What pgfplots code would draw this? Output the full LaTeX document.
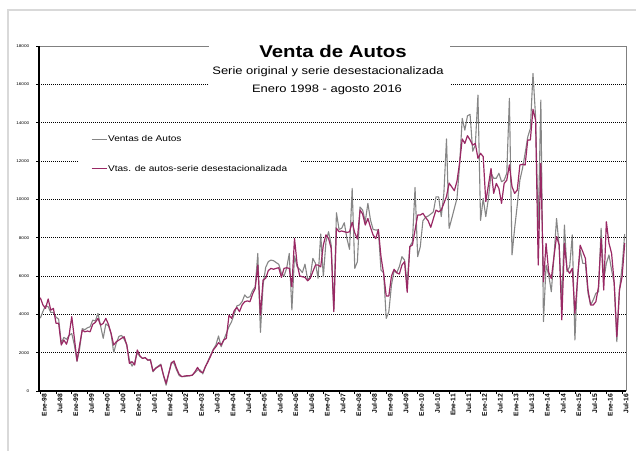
\documentclass[border=0pt]{standalone}
\usepackage{fontspec}
\setmainfont{Liberation Sans}[FakeStretch=1.2]
\newfontfamily\plainsans{Liberation Sans}
\usepackage{pgfplots}
\pgfplotsset{compat=1.18}
\usepackage{pgfplotstable}
\definecolor{ventas}{RGB}{134,134,134}
\definecolor{desest}{RGB}{153,40,100}
\definecolor{marco}{RGB}{217,217,217}
\definecolor{borde}{RGB}{128,128,128}

% mes: 0 = enero 1998 ... 223 = agosto 2016
\pgfplotstableread{
mes ventas desest
0 3800 4870
1 4150 4490
2 4450 4310
3 4400 4800
4 4100 4220
5 4100 4310
6 3850 3530
7 3750 3530
8 2500 2400
9 2800 2660
10 2700 2440
11 2900 2920
12 3000 3880
13 2400 2750
14 1550 1570
15 2200 2400
16 3250 3180
17 3200 3090
18 3300 3130
19 3350 3090
20 3700 3480
21 3650 3580
22 4050 3790
23 3400 3440
24 2750 3530
25 3500 3790
26 3400 3480
27 3000 3010
28 2000 2400
29 2500 2570
30 2850 2660
31 2900 2750
32 2700 2830
33 2400 2400
34 1600 1440
35 1300 1530
36 1500 1360
37 2000 2140
38 1800 1840
39 1700 1700
40 1750 1740
41 1600 1620
42 1650 1620
43 1000 1040
44 1200 1180
45 1300 1270
46 1400 1360
47 800 830
48 300 400
49 900 920
50 1500 1440
51 1450 1570
52 1100 1180
53 800 870
54 750 750
55 750 780
56 780 800
57 800 800
58 820 830
59 950 1000
60 1100 1230
61 1100 1010
62 890 960
63 1270 1270
64 1580 1530
65 1880 1820
66 2170 2140
67 2400 2310
68 2870 2520
69 2310 2400
70 2660 2660
71 3010 2750
72 3360 3960
73 3620 3790
74 4020 4190
75 4440 4360
76 4490 4140
77 4660 4490
78 5010 4660
79 4870 4700
80 4920 4660
81 5240 5060
82 5440 5350
83 7180 6570
84 3060 3960
85 5530 5790
86 6450 5880
87 6750 6280
88 6830 6400
89 6800 6350
90 6700 6400
91 6610 6430
92 6140 5930
93 6000 6400
94 6400 6430
95 7180 6400
96 4230 5440
97 7050 7960
98 6480 6620
99 6350 6000
100 6180 5960
101 6620 5930
102 5820 5750
103 5930 5880
104 6920 6230
105 6660 6570
106 5880 6570
107 8190 6480
108 5960 7620
109 7790 8150
110 8310 7960
111 7620 7440
112 4230 4140
113 9300 8490
114 8430 8310
115 8490 8350
116 8780 8310
117 7960 8270
118 7390 8310
119 10570 8800
120 6400 8250
121 6750 7930
122 9600 9450
123 9440 9230
124 8830 8660
125 9790 9000
126 8920 8540
127 8430 8140
128 8400 7950
129 8400 8430
130 6310 7010
131 6170 6140
132 3790 4960
133 4140 4960
134 5530 6000
135 6270 6350
136 6170 6170
137 6490 6100
138 7010 6570
139 6830 6750
140 5620 5150
141 7530 7530
142 7790 7620
143 10620 8400
144 7010 9180
145 7530 9180
146 8880 9270
147 9060 9060
148 9130 8880
149 9230 8540
150 9350 9000
151 10130 9440
152 10130 9350
153 9100 9440
154 10310 9790
155 13150 10150
156 8480 10850
157 9000 10650
158 9530 10450
159 10050 10950
160 11790 11900
161 14220 13150
162 13610 12920
163 14360 13320
164 14430 13100
165 12510 12830
166 12830 12920
167 15440 12140
168 8900 12400
169 10050 12230
170 9100 9880
171 10050 10740
172 11360 11610
173 11100 10310
174 11100 10830
175 11360 10570
176 10920 9790
177 11000 10830
178 11360 11000
179 15270 11800
180 7100 10660
181 8480 10310
182 9700 10480
183 11000 11790
184 11610 11830
185 12400 11790
186 13250 13100
187 13700 13100
188 16570 14700
189 14300 14140
190 8500 6570
191 15180 11880
192 3620 5700
193 6570 7700
194 6050 6200
195 5180 5870
196 7000 7000
197 9000 8060
198 7530 7620
199 4570 3710
200 8660 7710
201 6230 6340
202 6490 6140
203 8140 6400
204 2660 4050
205 5960 5790
206 7360 7610
207 6660 7270
208 6660 6920
209 5100 5270
210 4490 4490
211 4750 4490
212 5100 4660
213 5180 5440
214 8490 7970
215 5790 5270
216 6660 8830
217 7100 7710
218 6310 7180
219 5620 5620
220 2570 2830
221 5270 5270
222 6490 5960
223 8190 7710
}\autos

\begin{document}
\begin{tikzpicture}
\useasboundingbox (0pt,0pt) rectangle (636pt,-450pt);
\fill[white] (0pt,0pt) rectangle (636pt,-450pt);
\draw[marco, line width=2.2pt] (8pt,-10pt) rectangle (660pt,-470pt);

\begin{axis}[
  at={(39pt,-391pt)}, anchor=south west,
  scale only axis, width=587pt, height=345pt,
  xmin=-0.5, xmax=223.5, ymin=0, ymax=18000,
  scaled y ticks=false,
  axis line style={draw=none},
  tick pos=left,
  tick align=outside, major tick length=3pt,
  tick style={black, line width=0.6pt},
  xtick={0,6,...,222},
  xticklabels={Ene-98,Jul-98,Ene-99,Jul-99,Ene-00,Jul-00,Ene-01,Jul-01,Ene-02,Jul-02,
    Ene-03,Jul-03,Ene-04,Jul-04,Ene-05,Jul-05,Ene-06,Jul-06,Ene-07,Jul-07,Ene-08,Jul-08,
    Ene-09,Jul-09,Ene-10,Jul-10,Ene-11,Jul-11,Ene-12,Jul-12,Ene-13,Jul-13,Ene-14,Jul-14,
    Ene-15,Jul-15,Ene-16,Jul-16},
  xticklabel style={rotate=90, anchor=east, inner sep=0pt, yshift=-4pt,
    font=\plainsans\bfseries\fontsize{6.7}{7}\selectfont},
  ytick={0,2000,4000,6000,8000,10000,12000,14000,16000,18000},
  yticklabels={0,2000,4000,6000,8000,10000,12000,14000,16000,18000},
  yticklabel style={inner sep=0pt, xshift=-6.5pt, font=\fontsize{3.9}{4}\selectfont},
  ymajorgrids,
  major grid style={black, line width=0.7pt, dash pattern=on 1pt off 1pt},
  legend style={at={(axis description cs:0.068,0.76)}, anchor=north west,
    draw=none, fill=white, inner xsep=12pt, inner ysep=6pt, row sep=20pt,
    font=\fontsize{8.4}{9}\selectfont, nodes={inner sep=0.8pt},
    /tikz/every odd column/.append style={column sep=0pt}},
  legend cell align=left,
  legend image code/.code={\draw[#1] (0pt,0pt) -- (15pt,0pt);},
  after end axis/.code={
    \draw[borde, line width=0.8pt] (rel axis cs:0,1) -- (rel axis cs:1,1) -- (rel axis cs:1,0);
    \draw[black, line width=1.4pt] (rel axis cs:0,1) -- (rel axis cs:0,0) -- (rel axis cs:1,0);
  },
]
\addplot[ventas, line width=1.1pt, line join=round] table[x=mes, y=ventas]{\autos};
\addlegendentry{Ventas de Autos}
\addplot[desest, line width=1.2pt, line join=round] table[x=mes, y=desest]{\autos};
\addlegendentry{Vtas. de autos-serie desestacionalizada}
\end{axis}

\fill[white] (209pt,-36pt) rectangle (450pt,-97pt);
\node[anchor=base, inner sep=0pt] at (333pt,-57pt) {\fontsize{17}{18}\selectfont\bfseries Venta de Autos};
\node[anchor=base, inner sep=0pt] at (328pt,-74.5pt) {\fontsize{10.8}{12}\selectfont Serie original y serie desestacionalizada};
\node[anchor=base, inner sep=0pt] at (327pt,-92pt) {\fontsize{10.8}{12}\selectfont Enero 1998 - agosto 2016};
\end{tikzpicture}
\end{document}
